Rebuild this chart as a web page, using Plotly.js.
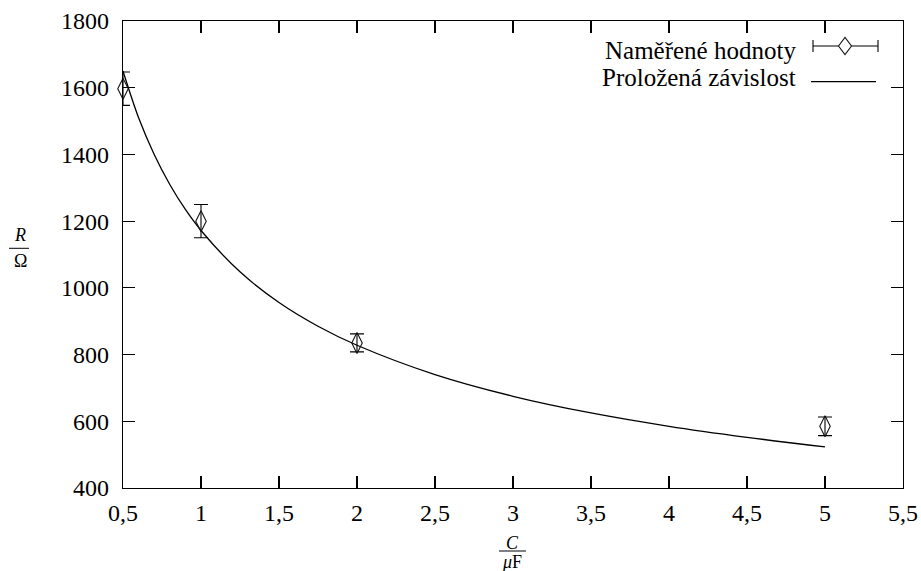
<!DOCTYPE html>
<html>
<head>
<meta charset="utf-8">
<script src="https://cdn.plot.ly/plotly-3.0.1.min.js"></script>
<style>html,body{margin:0;padding:0;background:#fff;}#chart{width:921px;height:571px;}</style>
</head>
<body>
<div id="chart"></div>
<script>
// Measured values
var capacitance = [0.5, 1, 2, 5];
var resistance = [1597, 1200, 835, 585];
var resistanceErr = [50, 50, 27, 28];

// Fitted curve
var fitC = [0.5, 0.6, 0.7, 0.8, 0.9, 1, 1.25, 1.5, 1.75, 2, 2.5, 3, 3.5, 4, 4.5, 5];
var fitR = [1650, 1510, 1400, 1310, 1235, 1172, 1048, 956, 885, 828, 740, 675, 625, 585, 552, 523];

var xTickVals = [0.5, 1, 1.5, 2, 2.5, 3, 3.5, 4, 4.5, 5, 5.5];
var xTickText = ['0,5', '1', '1,5', '2', '2,5', '3', '3,5', '4', '4,5', '5', '5,5'];
var yTickVals = [400, 600, 800, 1000, 1200, 1400, 1600, 1800];

var legendLabels = ['Naměřené hodnoty', 'Proložená závislost'];

var FONT = "'Liberation Serif', 'DejaVu Serif', serif";

var L = 123, R = 903, T = 21, B = 488;
var W = R - L, H = B - T;
function px(x) { return (x - L) / W; }
function py(y) { return (B - y) / H; }

var traces = [
  {
    x: fitC, y: fitR, type: 'scatter', mode: 'lines',
    line: {color: '#000', width: 1.3, shape: 'spline', smoothing: 1},
    hoverinfo: 'skip', showlegend: false, cliponaxis: false
  },
  {
    x: capacitance, y: resistance, type: 'scatter', mode: 'markers',
    marker: {symbol: 'diamond-tall-open', size: 15, color: '#111', line: {width: 1.1, color: '#111'}},
    error_y: {type: 'data', array: resistanceErr, visible: true, color: '#000', thickness: 1.1, width: 7},
    showlegend: false, cliponaxis: false
  }
];

// custom legend (symbols to the right of the text, gnuplot style)
var r1y = py(46), r2y = py(81.7);
var dcx = px(845), dhw = 6.5 / W, dhh = 8.7 / H;
var capH = 6 / H;
var shapes = [
  {type: 'line', xref: 'paper', yref: 'paper', x0: px(813), x1: px(878), y0: r1y, y1: r1y, line: {color: '#000', width: 1.1}},
  {type: 'line', xref: 'paper', yref: 'paper', x0: px(813), x1: px(813), y0: r1y - capH, y1: r1y + capH, line: {color: '#000', width: 1.1}},
  {type: 'line', xref: 'paper', yref: 'paper', x0: px(878), x1: px(878), y0: r1y - capH, y1: r1y + capH, line: {color: '#000', width: 1.1}},
  {type: 'path', xref: 'paper', yref: 'paper',
   path: 'M ' + (dcx - dhw) + ' ' + r1y + ' L ' + dcx + ' ' + (r1y + dhh) + ' L ' + (dcx + dhw) + ' ' + r1y + ' L ' + dcx + ' ' + (r1y - dhh) + ' Z',
   fillcolor: '#fff', line: {color: '#111', width: 1.1}},
  {type: 'line', xref: 'paper', yref: 'paper', x0: px(811), x1: px(876), y0: r2y, y1: r2y, line: {color: '#000', width: 1.3}},
  // fraction bars of axis titles
  {type: 'line', xref: 'paper', yref: 'paper', x0: px(9), x1: px(29), y0: py(248.3), y1: py(248.3), line: {color: '#000', width: 1}},
  {type: 'line', xref: 'paper', yref: 'paper', x0: px(499), x1: px(526), y0: py(551), y1: py(551), line: {color: '#000', width: 1}}
];

var annotations = [
  {xref: 'paper', yref: 'paper', x: px(798), y: py(50), xanchor: 'right', yanchor: 'middle', text: legendLabels[0], showarrow: false, font: {family: FONT, size: 25, color: '#000'}},
  {xref: 'paper', yref: 'paper', x: px(798), y: py(77), xanchor: 'right', yanchor: 'middle', text: legendLabels[1], showarrow: false, font: {family: FONT, size: 25, color: '#000'}},
  {xref: 'paper', yref: 'paper', x: px(20), y: py(235), xanchor: 'center', yanchor: 'middle', text: '<i>R</i>', showarrow: false, font: {family: FONT, size: 18, color: '#000'}},
  {xref: 'paper', yref: 'paper', x: px(20), y: py(261), xanchor: 'center', yanchor: 'middle', text: 'Ω', showarrow: false, font: {family: FONT, size: 18, color: '#000'}},
  {xref: 'paper', yref: 'paper', x: px(512), y: py(543), xanchor: 'center', yanchor: 'middle', text: '<i>C</i>', showarrow: false, font: {family: FONT, size: 18, color: '#000'}},
  {xref: 'paper', yref: 'paper', x: px(512), y: py(562), xanchor: 'center', yanchor: 'middle', text: '<i>μ</i>F', showarrow: false, font: {family: FONT, size: 18, color: '#000'}}
];

var layout = {
  width: 921, height: 571,
  margin: {l: L, r: 921 - R, t: T, b: 571 - B, pad: 0},
  paper_bgcolor: '#fff', plot_bgcolor: '#fff',
  showlegend: false,
  font: {family: FONT, size: 24, color: '#000'},
  xaxis: {
    range: [0.5, 5.5], tickvals: xTickVals, ticktext: xTickText, tickmode: 'array',
    ticks: 'inside', ticklen: 12, tickwidth: 1.2, tickcolor: '#000',
    showline: true, linecolor: '#000', linewidth: 1.3, mirror: 'ticks',
    showgrid: false, zeroline: false, ticklabelstandoff: 3,
    tickfont: {family: FONT, size: 24, color: '#000'}
  },
  yaxis: {
    range: [400, 1800], tickvals: yTickVals, tickmode: 'array',
    ticks: 'inside', ticklen: 12, tickwidth: 1.2, tickcolor: '#000',
    showline: true, linecolor: '#000', linewidth: 1.3, mirror: 'ticks',
    showgrid: false, zeroline: false, ticklabelstandoff: 8,
    tickfont: {family: FONT, size: 24, color: '#000'}
  },
  shapes: shapes,
  annotations: annotations
};

Plotly.newPlot('chart', traces, layout, {displayModeBar: false, staticPlot: true});
</script>
</body>
</html>
